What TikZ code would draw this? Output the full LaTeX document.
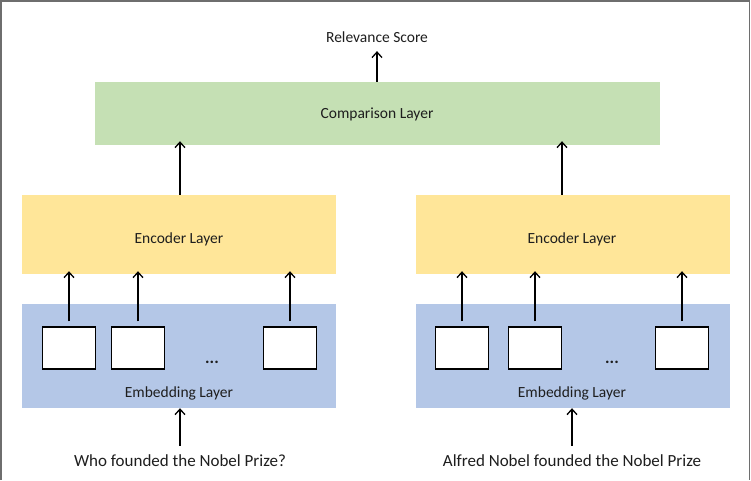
\documentclass[tikz,border=0pt]{standalone}
\usepackage{fontspec}
\setmainfont{Carlito}
\usetikzlibrary{arrows.meta}
\definecolor{cmpgreen}{HTML}{C5E0B4}
\definecolor{encyellow}{HTML}{FFE699}
\definecolor{embblue}{HTML}{B4C7E7}
\definecolor{txt}{HTML}{1E1E1E}
\definecolor{framec}{HTML}{6E6E6E}
\tikzset{
  layer/.style={rectangle, inner sep=0pt, draw=none},
  cmpbox/.style={layer, fill=cmpgreen, minimum width=565pt, minimum height=63pt},
  encbox/.style={layer, fill=encyellow, minimum width=314pt, minimum height=79pt},
  embbox/.style={layer, fill=embblue, minimum width=314pt, minimum height=104pt},
  tok/.style={rectangle, draw=black, fill=white, line width=1.3pt, minimum width=53pt, minimum height=42pt, inner sep=0pt},
  lbl/.style={inner sep=0pt, text=txt, font=\fontsize{15.5}{18}\selectfont},
  dots/.style={inner sep=0pt, text=txt, font=\fontsize{17}{20}\selectfont\bfseries},
  qlbl/.style={inner sep=0pt, text=txt, font=\fontsize{17}{20}\selectfont},
  arr/.style={-{Straight Barb[length=5.5pt,width=10pt]}, line width=1.3pt, black},
}
\begin{document}
\begin{tikzpicture}[x=1pt,y=-1pt]
\useasboundingbox (0,0) rectangle (751,480);
\fill[white] (0,0) rectangle (751,480);
\draw[framec, line width=1.6pt] (0.8,480) -- (0.8,0.8) -- (749.3,0.8) -- (749.3,480);

% layers
\node[cmpbox] (cmp) at (377.5,113.5) {};
\node[lbl] (cmpt) at (377,114.5) {Comparison Layer};
\node[encbox] (enc1) at (179,234.5) {};
\node[encbox] (enc2) at (572.5,234.5) {};
\node[embbox] (emb1) at (179,356) {};
\node[embbox] (emb2) at (572.5,356) {};

\node[lbl] (enc1t) at (179,239.5) {Encoder Layer};
\node[lbl] (enc2t) at (572,239.5) {Encoder Layer};
\node[lbl] (emb1t) at (179,393.5) {Embedding Layer};
\node[lbl] (emb2t) at (572,393.5) {Embedding Layer};

% token boxes
\node[tok] (a1) at (69,348) {};
\node[tok] (a2) at (138,348) {};
\node[tok] (a3) at (290,348) {};
\node[tok] (b1) at (462,348) {};
\node[tok] (b2) at (535,348) {};
\node[tok] (b3) at (682,348) {};
\node[dots] (d1) at (212,362.5) {...};
\node[dots] (d2) at (612,362.5) {...};

% texts
\node[lbl] (rel) at (377,37.5) {Relevance Score};
\node[qlbl] (q1) at (180,461) {Who founded the Nobel Prize?};
\node[qlbl] (q2) at (572,461) {Alfred Nobel founded the Nobel Prize};

% arrows
\draw[arr] (cmp.north -| rel) -- ([yshift=-8pt]rel.south);
\draw[arr] (enc1.north -| 180,0) -- ([yshift=4pt]cmp.south -| 180,0);
\draw[arr] (enc2.north -| 562,0) -- ([yshift=4pt]cmp.south -| 562,0);
\foreach \b in {a1,a2,a3,b1,b2,b3}{
  \draw[arr] ([yshift=5pt]\b.north) -- ([yshift=3pt]enc1.south -| \b.north);
}
\draw[arr] ([yshift=9pt]q1.north) -- (emb1.south -| q1.north);
\draw[arr] ([yshift=9pt]q2.north) -- (emb2.south -| q2.north);
\end{tikzpicture}
\end{document}
